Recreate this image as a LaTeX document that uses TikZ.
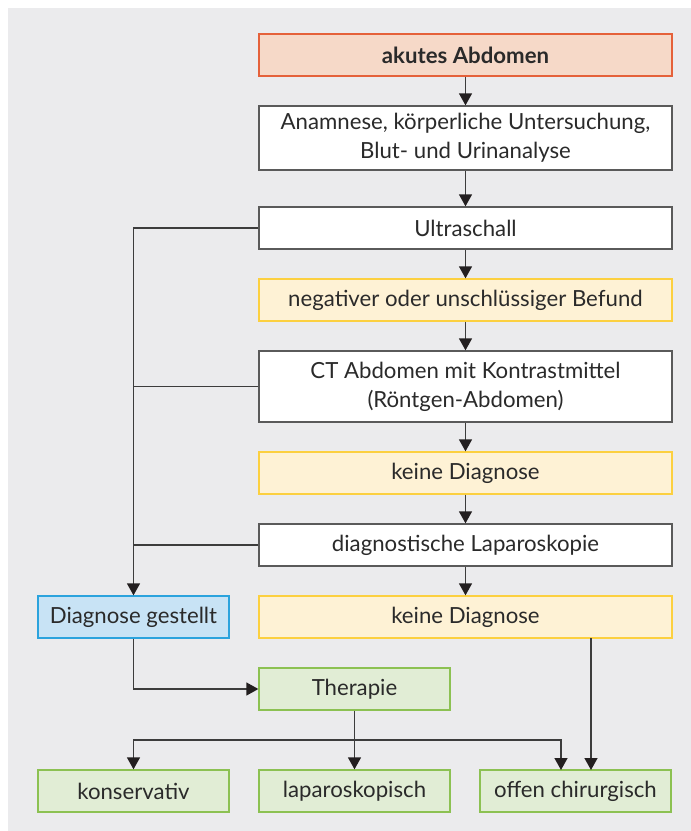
\documentclass[tikz,border=0pt]{standalone}
\usepackage{fontspec}
\setmainfont{Lato}
\usetikzlibrary{arrows.meta}
\definecolor{bg}{HTML}{EBEBED}
\definecolor{ordraw}{HTML}{E5613A}
\definecolor{orfill}{HTML}{F6D9C8}
\definecolor{whdraw}{HTML}{5A5A5A}
\definecolor{yedraw}{HTML}{FCD040}
\definecolor{yefill}{HTML}{FEF2D5}
\definecolor{bldraw}{HTML}{2BA3DD}
\definecolor{blfill}{HTML}{C8E3F5}
\definecolor{grdraw}{HTML}{8CC152}
\definecolor{grfill}{HTML}{E1EDD5}
\definecolor{ln}{HTML}{3C3C3C}
\definecolor{tip}{HTML}{231F20}
\definecolor{txt}{HTML}{2A2A2A}
\tikzset{
  box/.style={draw, line width=1.3pt, minimum height=42pt, inner sep=0pt, align=center,
    font=\fontsize{22.2}{29}\selectfont, text=txt},
  wide/.style={box, minimum width=413pt},
  narrow/.style={box, minimum width=191pt},
  orbox/.style={draw=ordraw, fill=orfill},
  whbox/.style={draw=whdraw, fill=white},
  yebox/.style={draw=yedraw, fill=yefill},
  blbox/.style={draw=bldraw, fill=blfill},
  grbox/.style={draw=grdraw, fill=grfill},
  conn/.style={draw=ln, line width=1.3pt},
  arr/.style={conn, -{Triangle[width=13pt,length=12pt,color=tip]}},
}
\begin{document}
\begin{tikzpicture}[x=1pt,y=-1pt]
\useasboundingbox (0,0) rectangle (691,831);
\fill[bg] (8,8) rectangle (691,831);

\node[wide,orbox,font=\fontsize{22.2}{29}\selectfont\bfseries] (akut) at (465.5,55) {akutes Abdomen};
\node[wide,whbox,minimum height=64pt] (anam) at (465.5,138) {Anamnese, körperliche Untersuchung,\\Blut- und Urinanalyse};
\node[wide,whbox] (ultra) at (465.5,228) {Ultraschall};
\node[wide,yebox] (neg) at (465.5,300) {negativer oder unschlüssiger Befund};
\node[wide,whbox,minimum height=71pt] (ct) at (465.5,386.5) {CT Abdomen mit Kontrastmittel\\(Röntgen-Abdomen)};
\node[wide,yebox] (kd1) at (465.5,473) {keine Diagnose};
\node[wide,whbox] (lap) at (465.5,545) {diagnostische Laparoskopie};
\node[wide,yebox] (kd2) at (465.5,617) {keine Diagnose};
\node[narrow,blbox] (dg) at (133.5,617) {Diagnose gestellt};
\node[narrow,grbox] (ther) at (354.5,689) {Therapie};
\node[narrow,grbox] (kons) at (133.5,791) {konservativ};
\node[narrow,grbox] (laps) at (354.5,791) {laparoskopisch};
\node[narrow,grbox] (offen) at (575.5,791) {offen chirurgisch};

\draw[arr] (akut) -- (anam);
\draw[arr] (anam) -- (ultra);
\draw[arr] (ultra) -- (neg);
\draw[arr] (neg) -- (ct);
\draw[arr] (ct) -- (kd1);
\draw[arr] (kd1) -- (lap);
\draw[arr] (lap) -- (kd2);

\draw[arr] (ultra.west) -| (dg.north);
\draw[conn] (ct.west) -- (ct.west -| dg.north);
\draw[conn] (lap.west) -- (lap.west -| dg.north);

\draw[arr] (dg.south) |- (ther.west);
\draw[arr] (ther.south) -- (laps.north);

\coordinate (split) at (354.5,740);
\coordinate (offin) at (561,770);
\coordinate (kdout) at (591,638);
\coordinate (kdin) at (591,770);
\draw[arr] (split) -| (kons.north);
\draw[arr] (split) -| (offin);
\draw[arr] (kdout) -- (kdin);
\end{tikzpicture}
\end{document}
